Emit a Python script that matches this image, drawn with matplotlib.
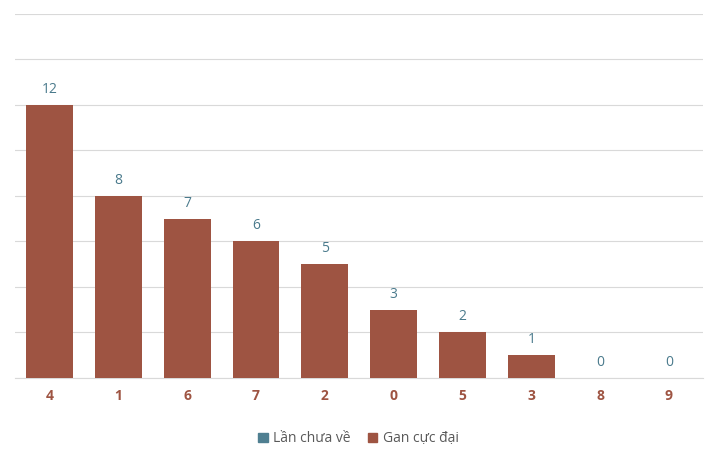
import matplotlib
matplotlib.use("Agg")
import matplotlib.pyplot as plt
import numpy as np

categories = ["4", "1", "6", "7", "2", "0", "5", "3", "8", "9"]
lan_chua_ve = [0, 0, 0, 0, 0, 0, 0, 0, 0, 0]
gan_cuc_dai = [12, 8, 7, 6, 5, 3, 2, 1, 0, 0]

plt.rcParams['font.family'] = ['Open Sans', 'DejaVu Sans']
fig = plt.figure(figsize=(7.17, 4.62), dpi=100)
ax = fig.add_axes([0.021, 0.182, 0.960, 0.788])
x = np.arange(len(categories))
ax.bar(x, gan_cuc_dai, width=0.68, color="#9e5442", label="Gan cực đại", zorder=3)
ax.bar(x, lan_chua_ve, width=0.0, color="#4f7f91", label="Lần chưa về", zorder=3)
for xi, v in zip(x, gan_cuc_dai):
    ax.text(xi, v + 0.35, str(v), ha="center", va="bottom", color="#4a7a8c", fontsize=10)
ax.set_xlim(-0.5, len(categories) - 0.5)
ax.set_ylim(0, 16)
ax.set_yticks(np.arange(0, 17, 2))
ax.yaxis.grid(True, color="#d9d9d9", linewidth=0.8, zorder=0)
ax.tick_params(axis="y", left=False, labelleft=False)
ax.tick_params(axis="x", length=0, pad=8)
ax.set_xticks(x)
ax.set_xticklabels(categories, color="#9e5442", fontweight="bold", fontsize=10)
for s in ["top", "right", "left"]:
    ax.spines[s].set_visible(False)
ax.spines["bottom"].set_color("#d9d9d9")
h, l = ax.get_legend_handles_labels()
fig.legend([plt.Rectangle((0, 0), 1, 1, color="#4f7f91"), plt.Rectangle((0, 0), 1, 1, color="#9e5442")],
           ["Lần chưa về", "Gan cực đại"], loc="center", bbox_to_anchor=(0.5, 0.05), ncol=2,
           frameon=False, fontsize=10, handlelength=0.7, handleheight=0.7, labelcolor="#595959",
           columnspacing=1.2, handletextpad=0.4)
fig.savefig("out.png", dpi=100)
